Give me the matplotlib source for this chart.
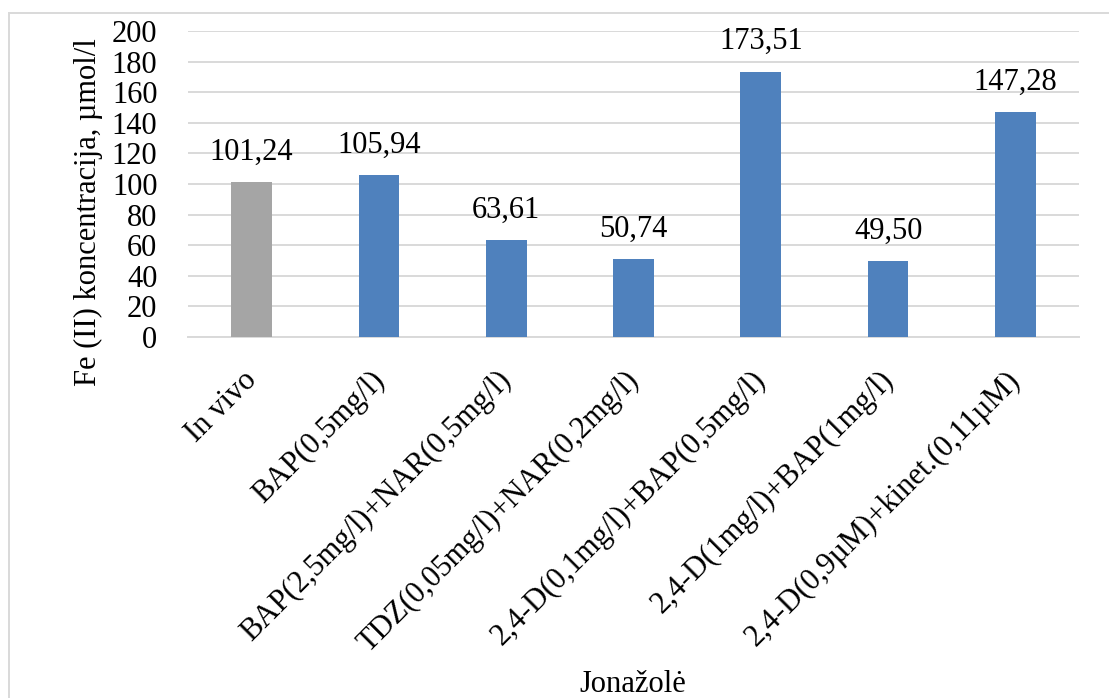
import matplotlib.pyplot as plt
from matplotlib.patches import Rectangle
from matplotlib.transforms import ScaledTranslation

plt.rcParams['font.family'] = ['Liberation Serif', 'DejaVu Serif']

categories = ["In vivo", "BAP(0,5mg/l)", "BAP(2,5mg/l)+NAR(0,5mg/l)",
              "TDZ(0,05mg/l)+NAR(0,2mg/l)", "2,4-D(0,1mg/l)+BAP(0,5mg/l)",
              "2,4-D(1mg/l)+BAP(1mg/l)", "2,4-D(0,9µM)+kinet.(0,11µM)"]
values = [101.24, 105.94, 63.61, 50.74, 173.51, 49.50, 147.28]
colors = ["#A5A5A5"] + ["#4F81BD"] * 6
yticks = list(range(0, 201, 20))

FS = 22

fig = plt.figure(figsize=(11.09, 6.98), dpi=100)
ax = fig.add_axes([188 / 1109, 1 - 337 / 698, 891 / 1109, 306 / 698])

x = range(len(categories))
ax.bar(x, values, width=0.32, color=colors, zorder=3)
for xi, v in zip(x, values):
    ax.annotate(f"{v:.2f}".replace(".", ","), (xi, v), xytext=(0, 16),
                textcoords="offset points", ha="center", va="baseline",
                fontsize=FS)

ax.set_xlim(-0.5, len(categories) - 0.5)
ax.set_ylim(0, 200)
ax.set_yticks(yticks)
ax.set_yticklabels([str(t) for t in yticks], fontsize=FS)
ax.set_xticks(list(x))
ax.set_xticklabels(categories, rotation=45, ha="right", va="center",
                   rotation_mode="anchor", fontsize=FS)
ax.tick_params(length=0)
ax.tick_params(axis="x", pad=28)
ax.tick_params(axis="y", pad=22)
shift = ScaledTranslation(1 / 100, 0, fig.dpi_scale_trans)
for lbl in ax.get_xticklabels():
    lbl.set_transform(lbl.get_transform() + shift)

ax.grid(axis="y", color="#D9D9D9", linewidth=1.4, zorder=0)
for s in ["top", "right", "left"]:
    ax.spines[s].set_visible(False)
ax.spines["bottom"].set_color("#D9D9D9")
ax.spines["bottom"].set_linewidth(1.4)

fig.text(88 / 1109, 1 - 212 / 698, "Fe (II) koncentracija, µmol/l",
         rotation=90, ha="center", va="center", fontsize=FS)
fig.text(633 / 1109, 1 - 684 / 698, "Jonažolė", ha="center", va="center",
         fontsize=FS)

# chart frame
fig.patches.append(Rectangle((9 / 1109, -0.1), 1.2, 1 - 13 / 698 + 0.1,
                             transform=fig.transFigure, fill=False,
                             edgecolor="#D9D9D9", linewidth=1.4))

fig.savefig("out.png", dpi=100)
